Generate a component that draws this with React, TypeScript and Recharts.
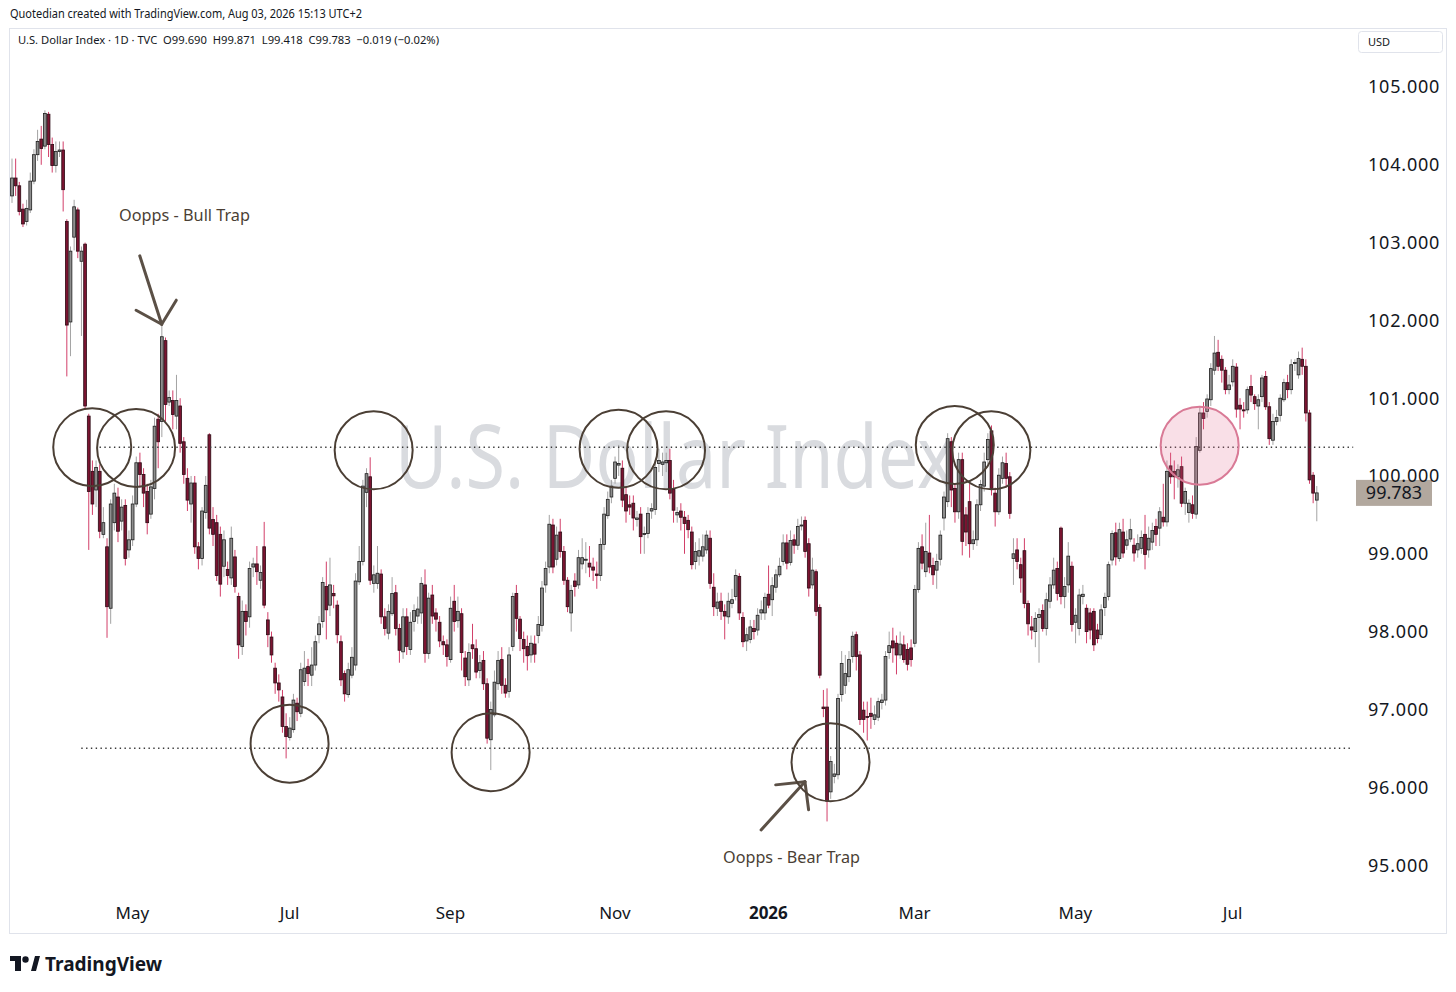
import React from "react";
import { ComposedChart, Bar, XAxis, YAxis, ReferenceLine, ReferenceDot } from "recharts";

// one daily candle: open, high, low, close
type Ohlc = [number, number, number, number];

const marToMay25: Ohlc[] = [
  [103.6, 104.08, 103.51, 103.83], [103.83, 104.08, 103.6, 103.73], [103.73, 103.78, 103.35, 103.4],
  [103.43, 103.5, 103.2, 103.24], [103.27, 103.55, 103.22, 103.44], [103.42, 103.9, 103.38, 103.79],
  [103.79, 104.2, 103.75, 104.13], [104.13, 104.45, 104.05, 104.3], [104.33, 104.5, 104.0, 104.21],
  [104.24, 104.7, 104.2, 104.66], [104.65, 104.68, 104.1, 104.26], [104.26, 104.35, 103.9, 103.99],
  [103.99, 104.3, 103.9, 104.17], [104.17, 104.3, 104.1, 104.19], [104.19, 104.3, 103.4, 103.68],
  [103.27, 103.3, 101.28, 101.94], [101.98, 102.95, 101.54, 102.89], [103.07, 103.55, 102.9, 103.46],
  [103.42, 103.45, 102.8, 102.89], [102.76, 102.95, 101.8, 102.89], [102.98, 103.0, 100.85, 100.9],
  [100.77, 100.8, 99.05, 99.8], [100.06, 100.2, 99.5, 99.64], [99.82, 100.2, 99.6, 100.11],
  [100.06, 100.15, 99.2, 99.29], [99.25, 99.6, 99.2, 99.4], [99.09, 99.2, 97.92, 98.32],
  [98.3, 99.7, 98.1, 99.64], [99.4, 99.9, 99.3, 99.78], [99.73, 99.85, 99.15, 99.29],
  [99.42, 99.7, 99.3, 99.6], [99.62, 99.7, 98.85, 98.94], [99.05, 99.3, 98.95, 99.18],
  [99.18, 99.75, 99.1, 99.64], [99.64, 100.25, 99.6, 100.17], [100.17, 100.3, 99.85, 100.02],
  [100.02, 100.1, 99.6, 99.78], [99.8, 99.9, 99.25, 99.4], [99.51, 99.95, 99.45, 99.86],
  [99.84, 100.75, 99.7, 100.64], [100.73, 100.8, 100.1, 100.44], [100.7, 101.97, 100.5, 101.79],
  [101.74, 101.78, 100.7, 100.92], [100.95, 101.1, 100.9, 101.01], [100.97, 101.1, 100.6, 100.79],
  [100.77, 101.3, 100.6, 100.97], [100.9, 101.0, 100.3, 100.42], [100.44, 100.5, 99.9, 100.02],
  [99.97, 100.1, 99.55, 99.69], [99.64, 100.0, 99.4, 99.91], [99.91, 100.0, 99.0, 99.09],
  [99.09, 99.15, 98.8, 98.94], [98.94, 99.6, 98.85, 99.55], [99.53, 100.0, 99.45, 99.88],
  [100.53, 100.55, 99.25, 99.33], [99.44, 99.6, 99.1, 99.25], [99.4, 99.5, 98.65, 98.72],
  [99.25, 99.35, 98.45, 98.61], [98.84, 99.3, 98.7, 99.18], [98.8, 98.9, 98.6, 98.72],
  [98.69, 99.35, 98.6, 99.2],
];

const junToSep25: Ohlc[] = [
  [98.96, 99.05, 98.5, 98.58], [98.45, 98.5, 97.65, 97.83], [97.81, 98.4, 97.7, 98.26],
  [98.26, 98.35, 97.95, 98.13], [98.19, 98.9, 98.05, 98.81], [98.83, 98.95, 98.7, 98.87],
  [98.87, 99.1, 98.6, 98.77], [98.66, 98.85, 98.55, 98.76], [99.09, 99.41, 98.3, 98.34],
  [98.15, 98.25, 97.8, 97.96], [97.93, 98.0, 97.6, 97.7], [97.53, 97.6, 97.2, 97.34],
  [97.34, 97.45, 97.1, 97.25], [97.16, 97.25, 96.7, 96.78], [96.78, 96.95, 96.37, 96.65],
  [96.64, 96.9, 96.6, 96.76], [96.74, 97.2, 96.7, 97.12], [97.08, 97.15, 96.85, 96.97],
  [96.95, 97.6, 96.9, 97.51], [97.36, 97.75, 97.3, 97.53], [97.55, 97.65, 97.3, 97.46],
  [97.44, 97.8, 97.3, 97.57], [97.57, 97.95, 97.5, 97.87], [97.96, 98.2, 97.85, 98.1],
  [98.13, 98.7, 98.05, 98.63], [98.58, 98.9, 97.9, 98.28], [98.34, 98.95, 98.2, 98.6],
  [98.49, 98.6, 98.3, 98.46], [98.34, 98.4, 97.85, 97.96], [97.87, 97.95, 97.3, 97.38],
  [97.46, 97.5, 97.1, 97.2], [97.19, 97.6, 97.15, 97.51], [97.44, 97.8, 97.4, 97.67],
  [97.57, 98.75, 97.5, 98.65], [98.64, 99.1, 98.6, 98.9], [98.9, 99.95, 98.85, 99.87],
  [99.79, 100.1, 99.6, 100.03], [99.99, 100.24, 98.6, 98.66], [98.62, 98.85, 98.5, 98.73],
  [98.62, 99.1, 98.55, 98.75], [98.74, 98.8, 98.1, 98.19], [98.19, 98.3, 97.95, 98.04],
  [97.98, 98.35, 97.9, 98.26], [98.23, 98.7, 98.2, 98.49], [98.5, 98.6, 97.95, 98.04],
  [98.04, 98.1, 97.6, 97.76], [97.74, 98.3, 97.65, 98.19], [98.19, 98.3, 97.7, 97.81],
  [97.77, 98.25, 97.7, 98.12], [98.13, 98.35, 98.0, 98.27], [98.2, 98.45, 98.1, 98.29],
  [98.24, 98.7, 98.1, 98.62], [98.6, 98.8, 97.6, 97.72], [97.72, 98.5, 97.65, 98.43],
  [98.47, 98.6, 98.1, 98.2], [98.24, 98.3, 98.0, 98.16], [98.12, 98.2, 97.8, 97.88],
  [97.87, 97.95, 97.7, 97.83], [97.83, 97.9, 97.55, 97.68], [97.64, 98.45, 97.6, 98.3],
  [98.39, 98.6, 98.0, 98.13],
];

const sepToDec25: Ohlc[] = [
  [98.14, 98.45, 98.05, 98.26], [98.23, 98.3, 97.5, 97.73], [97.66, 97.75, 97.3, 97.42],
  [97.38, 97.85, 97.3, 97.73], [97.83, 98.1, 97.65, 97.78], [97.78, 97.9, 97.4, 97.48],
  [97.5, 97.7, 97.4, 97.6], [97.63, 97.75, 97.25, 97.33], [97.33, 97.4, 96.56, 96.63],
  [96.61, 97.1, 96.22, 97.0], [96.93, 97.5, 96.9, 97.35], [97.33, 97.75, 97.25, 97.63],
  [97.64, 97.8, 97.2, 97.31], [97.31, 97.4, 97.15, 97.21], [97.23, 97.8, 97.15, 97.7],
  [97.81, 98.5, 97.75, 98.45], [98.49, 98.6, 98.0, 98.17], [98.16, 98.2, 97.75, 97.91],
  [97.9, 98.0, 97.6, 97.78], [97.81, 97.95, 97.5, 97.69], [97.7, 97.95, 97.6, 97.85],
  [97.84, 97.95, 97.6, 97.71], [97.95, 98.2, 97.85, 98.09], [98.08, 98.65, 98.0, 98.56],
  [98.6, 98.9, 98.5, 98.81], [98.83, 99.5, 98.75, 99.38], [99.37, 99.45, 98.75, 98.83],
  [98.93, 99.35, 98.85, 99.24], [99.28, 99.45, 98.95, 99.03], [99.03, 99.1, 98.6, 98.66],
  [98.66, 98.7, 98.25, 98.32], [98.24, 98.6, 98.0, 98.53], [98.65, 98.75, 98.45, 98.58],
  [98.6, 99.05, 98.55, 98.95], [98.87, 99.2, 98.8, 98.95], [98.92, 99.15, 98.75, 98.93],
  [98.88, 99.1, 98.7, 98.83], [98.83, 98.95, 98.65, 98.79], [98.74, 98.9, 98.55, 98.72],
  [98.72, 99.2, 98.65, 99.12], [99.12, 99.6, 99.05, 99.51], [99.49, 99.8, 99.45, 99.7],
  [99.73, 99.95, 99.65, 99.87], [99.97, 100.25, 99.9, 100.18], [100.14, 100.4, 100.0, 100.16],
  [100.1, 100.2, 99.6, 99.69], [99.76, 99.85, 99.4, 99.55], [99.63, 99.75, 99.5, 99.6],
  [99.65, 99.75, 99.3, 99.46], [99.44, 99.55, 99.35, 99.46], [99.51, 99.6, 99.0, 99.22],
  [99.25, 99.35, 99.0, 99.26], [99.26, 99.6, 99.2, 99.52], [99.55, 99.65, 99.45, 99.58],
  [99.57, 100.2, 99.5, 100.11], [100.16, 100.35, 100.05, 100.2], [100.15, 100.3, 100.0, 100.18],
  [100.17, 100.3, 100.05, 100.2], [100.2, 100.35, 99.7, 99.78], [99.83, 99.95, 99.4, 99.56],
  [99.5, 99.6, 99.4, 99.53], [99.55, 99.65, 99.3, 99.47], [99.47, 99.55, 99.0, 99.39],
];

const decToFeb26: Ohlc[] = [
  [99.43, 99.5, 99.2, 99.31], [99.28, 99.35, 98.8, 98.86], [98.9, 99.15, 98.8, 99.03],
  [98.97, 99.2, 98.85, 99.04], [98.97, 99.25, 98.9, 99.09], [99.05, 99.3, 99.0, 99.24],
  [99.2, 99.3, 98.55, 98.62], [98.57, 98.75, 98.2, 98.32], [98.3, 98.5, 98.2, 98.38],
  [98.39, 98.5, 98.15, 98.26], [98.26, 98.35, 97.9, 98.2], [98.19, 98.5, 98.1, 98.39],
  [98.36, 98.55, 98.3, 98.41], [98.45, 98.8, 98.4, 98.72], [98.71, 98.75, 98.15, 98.24],
  [98.18, 98.25, 97.8, 97.87], [97.88, 98.05, 97.75, 97.96], [97.9, 98.15, 97.85, 98.06],
  [98.04, 98.15, 97.9, 98.0], [98.02, 98.3, 97.95, 98.21], [98.24, 98.4, 98.15, 98.28],
  [98.24, 98.5, 98.15, 98.44], [98.48, 98.85, 98.3, 98.34], [98.41, 98.7, 98.2, 98.59],
  [98.57, 98.8, 98.5, 98.73], [98.73, 98.95, 98.7, 98.84], [98.9, 99.25, 98.85, 99.14],
  [99.14, 99.25, 98.8, 98.88], [98.89, 99.3, 98.85, 99.17], [99.18, 99.25, 99.0, 99.11],
  [99.11, 99.45, 99.05, 99.35], [99.36, 99.48, 99.3, 99.37], [99.43, 99.48, 98.95, 99.03],
  [99.13, 99.2, 98.45, 98.56], [98.6, 98.95, 98.55, 98.79], [98.77, 98.8, 98.2, 98.26],
  [98.31, 98.35, 97.4, 97.44], [97.03, 97.25, 96.9, 97.01], [97.03, 97.27, 95.56, 95.82],
  [95.94, 96.4, 95.85, 96.33], [96.14, 96.3, 96.05, 96.17], [96.16, 97.2, 96.1, 97.14],
  [97.19, 97.75, 97.1, 97.59], [97.31, 97.7, 97.2, 97.46], [97.42, 97.75, 97.35, 97.64],
  [97.68, 98.0, 97.6, 97.94], [97.96, 98.0, 97.5, 97.68], [97.7, 97.75, 96.8, 96.87],
  [96.99, 97.1, 96.7, 96.87], [96.91, 97.1, 96.6, 96.9], [96.95, 97.15, 96.75, 96.91],
  [96.87, 97.05, 96.8, 96.93], [96.9, 97.15, 96.85, 97.1], [97.09, 97.2, 97.0, 97.12],
  [97.12, 97.75, 97.05, 97.68], [97.73, 98.0, 97.65, 97.82], [97.88, 98.05, 97.6, 97.79],
  [97.85, 97.95, 97.45, 97.7], [97.7, 98.0, 97.65, 97.84], [97.83, 97.95, 97.6, 97.64],
  [97.77, 97.85, 97.5, 97.58], [97.79, 97.9, 97.55, 97.64], [97.85, 98.6, 97.8, 98.54],
  [98.54, 99.15, 98.5, 99.07],
];

const marToJun26: Ohlc[] = [
  [99.09, 99.25, 98.8, 98.88], [98.77, 99.4, 98.7, 99.03], [99.01, 99.5, 98.75, 98.83],
  [98.85, 98.95, 98.6, 98.73], [98.79, 99.0, 98.55, 98.9], [98.93, 99.3, 98.85, 99.24],
  [99.46, 99.8, 99.3, 99.73], [99.67, 100.55, 99.6, 100.48], [100.44, 100.5, 99.6, 99.82],
  [99.84, 99.9, 99.4, 99.54], [99.54, 100.3, 99.45, 100.21], [100.21, 100.3, 98.98, 99.16],
  [99.5, 99.6, 99.1, 99.28], [99.67, 99.9, 98.95, 99.13], [99.13, 99.3, 99.05, 99.18],
  [99.18, 99.7, 99.1, 99.63], [99.63, 99.95, 99.55, 99.89], [99.87, 100.3, 99.8, 100.18],
  [100.21, 100.55, 100.15, 100.47], [100.58, 100.65, 99.75, 99.84], [99.78, 99.85, 99.35, 99.54],
  [99.54, 100.1, 99.5, 100.01], [99.97, 100.25, 99.9, 100.17], [100.16, 100.3, 99.85, 99.97],
  [99.99, 100.05, 99.45, 99.52], [98.94, 99.2, 98.6, 99.0], [99.05, 99.2, 98.8, 98.9],
  [98.86, 98.95, 98.5, 98.69], [99.04, 99.2, 98.3, 98.36], [98.36, 98.4, 97.95, 98.1],
  [98.06, 98.2, 97.9, 98.02], [98.0, 98.25, 97.8, 98.17], [98.18, 98.3, 97.6, 98.22],
  [98.27, 98.35, 98.0, 98.04], [98.04, 98.5, 97.95, 98.41], [98.39, 98.7, 98.3, 98.6],
  [98.6, 98.95, 98.55, 98.79], [98.81, 98.9, 98.4, 98.49], [99.33, 99.35, 98.35, 98.45],
  [98.45, 98.7, 98.3, 98.58], [98.6, 99.15, 98.5, 98.97], [98.84, 98.9, 98.0, 98.09],
  [98.12, 98.3, 97.85, 98.21], [98.04, 98.55, 97.95, 98.47], [98.45, 98.6, 98.35, 98.48],
  [98.3, 98.35, 97.85, 98.0], [98.24, 98.3, 97.9, 98.02], [98.26, 98.3, 97.75, 97.83],
  [98.02, 98.1, 97.85, 97.91], [97.96, 98.35, 97.9, 98.28], [98.31, 98.5, 98.2, 98.44],
  [98.45, 98.9, 98.4, 98.86], [98.92, 99.3, 98.85, 99.26], [99.27, 99.4, 98.85, 98.96],
  [98.94, 99.4, 98.9, 99.31], [99.28, 99.45, 98.95, 99.01], [99.11, 99.3, 99.05, 99.18],
  [99.19, 99.45, 99.15, 99.31], [99.11, 99.2, 98.9, 99.01], [99.05, 99.25, 98.95, 99.13],
  [99.07, 99.3, 99.0, 99.21], [99.25, 99.5, 98.8, 98.99],
];

const junToAug26: Ohlc[] = [
  [99.05, 99.35, 98.95, 99.2], [99.15, 99.4, 99.05, 99.3], [99.35, 99.45, 99.1, 99.25],
  [99.33, 99.6, 99.1, 99.54], [99.47, 99.9, 99.35, 99.41], [99.41, 100.2, 99.35, 100.06],
  [100.13, 100.3, 99.9, 99.99], [100.06, 100.2, 99.7, 99.99], [99.99, 100.15, 99.85, 100.08],
  [100.12, 100.25, 99.6, 99.65], [99.65, 99.85, 99.5, 99.8], [99.53, 99.7, 99.4, 99.65],
  [99.63, 99.75, 99.45, 99.52], [99.51, 100.5, 99.45, 100.38], [100.33, 100.9, 100.3, 100.81],
  [100.81, 100.95, 100.6, 100.74], [100.83, 101.05, 100.75, 100.99], [100.98, 101.45, 100.9, 101.38],
  [101.36, 101.8, 101.3, 101.58], [101.59, 101.75, 101.35, 101.41], [101.5, 101.55, 101.2, 101.36],
  [101.36, 101.4, 101.05, 101.11], [101.11, 101.3, 101.05, 101.17], [101.21, 101.5, 101.15, 101.41],
  [101.4, 101.45, 100.75, 100.86], [100.91, 101.0, 100.6, 100.86], [100.85, 100.95, 100.75, 100.84],
  [100.85, 101.15, 100.8, 101.11], [101.15, 101.3, 100.95, 101.04], [101.02, 101.05, 100.85, 100.93],
  [100.9, 101.05, 100.6, 100.98], [101.02, 101.3, 100.95, 101.26], [101.28, 101.35, 100.85, 100.89],
  [100.89, 100.95, 100.4, 100.48], [100.46, 100.8, 100.4, 100.7], [100.7, 100.85, 100.65, 100.75],
  [100.78, 101.05, 100.7, 101.0], [100.98, 101.25, 100.95, 101.2], [101.2, 101.3, 101.0, 101.11],
  [101.11, 101.5, 101.05, 101.43], [101.45, 101.5, 101.35, 101.46], [101.3, 101.6, 101.25, 101.51],
  [101.5, 101.65, 101.3, 101.41], [101.41, 101.5, 100.7, 100.81], [100.81, 100.85, 99.9, 99.95],
  [100.01, 100.05, 99.65, 99.78], [99.69, 99.871, 99.418, 99.783],
];

const monthTicks = [33, 76, 120, 165, 207, 247, 291, 334];
const monthLabels = ["May", "Jul", "Sep", "Nov", "2026", "Mar", "May", "Jul"];

const resistance = 100.37;
const support = 96.5;
const resistanceStart = 24;
const supportStart = 19;
// [candle index, price] of the circled touches
const resistanceTouches: [number, number][] = [
  [22, 100.37], [34, 100.36], [99, 100.33], [166, 100.35], [179, 100.33], [258, 100.4], [268, 100.33],
];
const supportTouches: [number, number][] = [[76, 96.56], [131, 96.45], [224, 96.32]];
const breakoutTouch: [number, number] = [325, 100.39];

// arrow strokes as [candle index, price] pairs
const bullArrow: [number, number][][] = [
  [[35, 102.83], [41, 101.95]],
  [[34, 102.13], [41, 101.95]],
  [[45, 102.26], [41, 101.95]],
];
const bearArrow: [number, number][][] = [
  [[205, 95.45], [217, 96.07]],
  [[209, 96.03], [217, 96.07]],
  [[218, 95.71], [217, 96.07]],
];

const PAD_SLOTS = 10;
const FONT = '"Noto Sans", "DejaVu Sans", sans-serif';
const INK = "#4b3f35";

const candles = [...marToMay25, ...junToSep25, ...sepToDec25, ...decToFeb26, ...marToJun26, ...junToAug26];
const data = [
  ...candles.map(([o, h, l, c], i) => ({ i, o, h, l, c })),
  ...Array.from({ length: PAD_SLOTS }, (_, k) => ({ i: candles.length + k, o: null, h: null, l: null, c: null })),
];
const lastIdx = candles.length - 1;
const lastClose = candles[lastIdx][3];

const Candle = (props: any) => {
  const { x, y, width, height, payload } = props;
  if (!payload || payload.h == null) return null;
  const { o, h, l, c } = payload;
  const top = Math.min(y, y + height);
  const k = h > l ? Math.abs(height) / (h - l) : 0;
  const py = (v: number) => top + (h - v) * k;
  const cx = x + width / 2;
  const up = c >= o;
  const bTop = py(Math.max(o, c));
  const bH = Math.max(1, py(Math.min(o, c)) - bTop);
  return (
    <g>
      <line x1={cx} x2={cx} y1={py(h)} y2={py(l)} stroke={up ? "#a3a3a3" : "#d23f69"} strokeWidth={1} />
      <rect
        x={cx - 1.4}
        y={bTop}
        width={2.8}
        height={bH}
        fill={up ? "#8e8e8e" : "#7b1431"}
        stroke={up ? "#1f1f1f" : "#2b0b14"}
        strokeWidth={0.8}
      />
    </g>
  );
};

const PriceTick = ({ x, y, payload }: any) => (
  <text x={x} y={y} dy={6.5} textAnchor="start" fontSize={18} fill="#131722" fontFamily={FONT} letterSpacing={0.8}>
    {Number(payload.value).toFixed(3)}
  </text>
);

const MonthTick = ({ x, y, payload }: any) => {
  const label = monthLabels[monthTicks.indexOf(payload.value)] ?? "";
  return (
    <text
      x={x}
      y={y}
      dy={26.5}
      textAnchor="middle"
      fontSize={17}
      fontWeight={label === "2026" ? 700 : 400}
      fill="#131722"
      fontFamily={FONT}
    >
      {label}
    </text>
  );
};

const PriceTag = (props: any) => {
  const vb = props.viewBox || {};
  const left = vb.x + vb.width + 1;
  return (
    <g>
      <rect x={left} y={vb.y - 13} width={76} height={26} fill="#b2a89e" />
      <text x={left + 38} y={vb.y + 6.5} textAnchor="middle" fontSize={18} fill="#131722" fontFamily={FONT}>
        {lastClose.toFixed(3)}
      </text>
    </g>
  );
};

const App = () => {
  const arrowLines = [...bullArrow, ...bearArrow];
  return (
    <div style={{ position: "absolute", left: 0, top: 0, width: 1456, height: 992, background: "#fff", overflow: "hidden" }}>
      <svg width={1456} height={992} style={{ position: "absolute", left: 0, top: 0 }}>
        <text x={395} y={488} fontSize={88} fill="#d9dbdf" fontFamily={FONT} textLength={560} lengthAdjust="spacingAndGlyphs">
          U.S. Dollar Index
        </text>
      </svg>
      <div style={{ position: "absolute", left: 0, top: 0 }}>
        <ComposedChart
          width={1456}
          height={992}
          data={data}
          margin={{ top: 30, right: 10, bottom: 57, left: 10 }}
          barCategoryGap={0}
        >
          <XAxis
            dataKey="i"
            type="category"
            ticks={monthTicks}
            interval={0}
            tick={<MonthTick />}
            tickLine={false}
            axisLine={false}
            tickSize={0}
            height={45}
          />
          <YAxis
            orientation="right"
            type="number"
            domain={[94.6787, 105.7326]}
            ticks={[95, 96, 97, 98, 99, 100, 101, 102, 103, 104, 105]}
            allowDataOverflow
            tick={<PriceTick />}
            tickLine={false}
            axisLine={false}
            tickSize={0}
            tickMargin={13}
            width={91}
          />
          <ReferenceLine
            segment={[{ x: resistanceStart, y: resistance }, { x: data.length - 1, y: resistance }]}
            stroke="#3a3a3a"
            strokeWidth={1.4}
            strokeDasharray="1.4 3.4"
          />
          <ReferenceLine
            segment={[{ x: supportStart, y: support }, { x: data.length - 1, y: support }]}
            stroke="#3a3a3a"
            strokeWidth={1.4}
            strokeDasharray="1.4 3.4"
          />
          <Bar
            dataKey={(d: any) => (d.h == null ? null : [d.l, d.h])}
            shape={<Candle />}
            isAnimationActive={false}
          />
          {resistanceTouches.concat(supportTouches).map(([i, p]) => (
            <ReferenceDot key={`c${i}`} x={i} y={p} r={39} fill="none" stroke={INK} strokeWidth={2} />
          ))}
          <ReferenceDot
            x={breakoutTouch[0]}
            y={breakoutTouch[1]}
            r={39}
            fill="rgba(226, 110, 145, 0.22)"
            stroke="#d97a96"
            strokeWidth={2}
          />
          {arrowLines.map((seg, k) => (
            <ReferenceLine
              key={`a${k}`}
              segment={[{ x: seg[0][0], y: seg[0][1] }, { x: seg[1][0], y: seg[1][1] }]}
              stroke="#5b5046"
              strokeWidth={3}
              strokeLinecap="round"
            />
          ))}
          <ReferenceLine y={lastClose} stroke="none" label={<PriceTag />} />
        </ComposedChart>
      </div>
      <svg width={1456} height={992} style={{ position: "absolute", left: 0, top: 0, pointerEvents: "none" }}>
        <rect x={9.5} y={28.5} width={1437} height={905} fill="none" stroke="#e0e3eb" />
        <text x={10} y={18} fontSize={12} fill="#131722" fontFamily={FONT} textLength={352} lengthAdjust="spacingAndGlyphs">
          Quotedian created with TradingView.com, Aug 03, 2026 15:13 UTC+2
        </text>
        <text
          x={18}
          y={44}
          fontSize={11.5}
          fill="#131722"
          fontFamily={FONT}
          textLength={421}
          lengthAdjust="spacingAndGlyphs"
          style={{ whiteSpace: "pre" }}
        >
          {"U.S. Dollar Index · 1D · TVC  O99.690  H99.871  L99.418  C99.783  −0.019 (−0.02%)"}
        </text>
        <rect x={1358.5} y={31.5} width={84} height={21} rx={3} fill="#fff" stroke="#e0e3eb" />
        <text x={1368} y={46} fontSize={11} fill="#131722" fontFamily={FONT}>
          USD
        </text>
        <text x={119} y={221} fontSize={16} fill={INK} fontFamily={FONT} textLength={131} lengthAdjust="spacingAndGlyphs">
          Oopps - Bull Trap
        </text>
        <text x={723} y={863} fontSize={16} fill={INK} fontFamily={FONT} textLength={137} lengthAdjust="spacingAndGlyphs">
          Oopps - Bear Trap
        </text>
        <g fill="#131722">
          <rect x={10} y={956} width={11} height={5} />
          <rect x={15} y={956} width={6} height={15} />
          <circle cx={25.5} cy={959.5} r={3.2} />
          <polygon points="31,971 35,956 40,956 36,971" />
        </g>
        <text x={45} y={971} fontSize={19} fontWeight={700} fill="#131722" fontFamily={FONT} textLength={117} lengthAdjust="spacingAndGlyphs">
          TradingView
        </text>
      </svg>
    </div>
  );
};

export default App;
